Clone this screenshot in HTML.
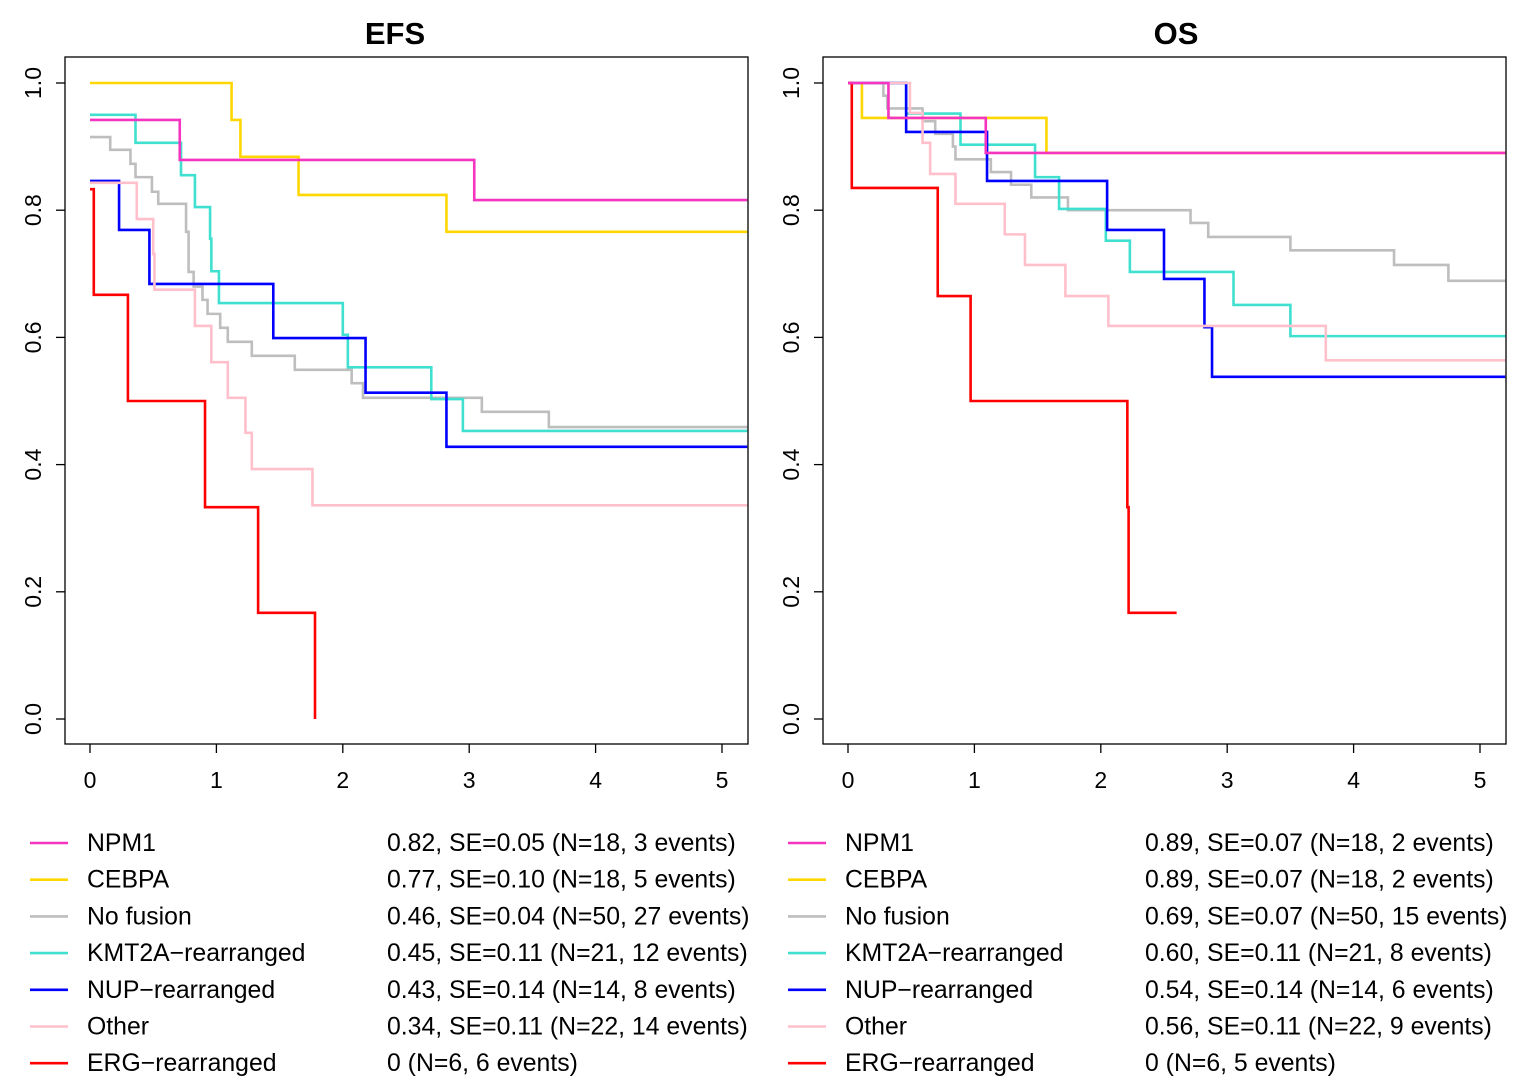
<!DOCTYPE html>
<html><head><meta charset="utf-8"><style>
body{margin:0;background:#fff;}
svg text{font-family:"Liberation Sans",Arial,sans-serif;}
</style></head><body>
<svg id="c" width="1520" height="1084" xmlns="http://www.w3.org/2000/svg"></svg>
<script>
const groups = ["NPM1","CEBPA","No fusion","KMT2A\u2212rearranged","NUP\u2212rearranged","Other","ERG\u2212rearranged"];
const colors = ["#f535c0","#ffd700","#bebebe","#40e0d0","#0000ff","#ffc0cb","#ff0000"];
const efsTimes = [
 [0,0.71,3.04],
 [0,1.12,1.19,1.65,2.82],
 [0,0.16,0.32,0.36,0.49,0.54,0.76,0.78,0.82,0.89,0.93,1.03,1.09,1.28,1.62,2.07,2.16,3.1,3.63],
 [0,0.36,0.72,0.83,0.95,0.96,1.02,2.0,2.04,2.7,2.95],
 [0,0.23,0.47,1.45,2.18,2.82],
 [0,0.37,0.5,0.51,0.83,0.96,1.09,1.23,1.28,1.76],
 [0,0.03,0.3,0.91,1.33,1.78]
];
const efsSurv = [
 [0.942,0.879,0.816],
 [1.0,0.942,0.884,0.824,0.766],
 [0.915,0.895,0.873,0.852,0.829,0.81,0.766,0.703,0.68,0.659,0.637,0.615,0.593,0.571,0.549,0.528,0.505,0.483,0.459],
 [0.95,0.906,0.855,0.805,0.755,0.704,0.654,0.604,0.553,0.503,0.453],
 [0.846,0.769,0.684,0.599,0.513,0.428],
 [0.843,0.786,0.731,0.675,0.618,0.561,0.505,0.45,0.393,0.336],
 [0.833,0.667,0.5,0.333,0.167,0]
];
const efsEnd = [5.2,5.2,5.2,5.2,5.2,5.2,1.78];
const osTimes = [
 [0,0.32,1.09],
 [0,0.11,1.57],
 [0,0.28,0.31,0.59,0.69,0.83,0.85,1.13,1.29,1.45,1.74,2.71,2.85,3.5,4.32,4.75],
 [0,0.46,0.89,1.48,1.67,2.04,2.23,3.05,3.5],
 [0,0.46,1.1,2.05,2.5,2.82,2.88],
 [0,0.49,0.59,0.65,0.85,1.24,1.4,1.72,2.06,3.78],
 [0,0.03,0.71,0.97,2.21,2.22]
];
const osSurv = [
 [1.0,0.945,0.89],
 [1.0,0.945,0.89],
 [1.0,0.98,0.96,0.94,0.92,0.90,0.88,0.86,0.84,0.82,0.80,0.78,0.758,0.737,0.714,0.689],
 [1.0,0.952,0.903,0.852,0.802,0.752,0.703,0.651,0.602],
 [1.0,0.923,0.846,0.769,0.692,0.616,0.538],
 [1.0,0.953,0.906,0.857,0.81,0.762,0.714,0.665,0.618,0.564],
 [1.0,0.835,0.665,0.5,0.333,0.167]
];
const osEnd = [5.2,5.2,5.2,5.2,5.2,5.2,2.6];
const efsStats = ["0.82, SE=0.05 (N=18, 3 events)","0.77, SE=0.10 (N=18, 5 events)","0.46, SE=0.04 (N=50, 27 events)","0.45, SE=0.11 (N=21, 12 events)","0.43, SE=0.14 (N=14, 8 events)","0.34, SE=0.11 (N=22, 14 events)","0 (N=6, 6 events)"];
const osStats = ["0.89, SE=0.07 (N=18, 2 events)","0.89, SE=0.07 (N=18, 2 events)","0.69, SE=0.07 (N=50, 15 events)","0.60, SE=0.11 (N=21, 8 events)","0.54, SE=0.14 (N=14, 6 events)","0.56, SE=0.11 (N=22, 9 events)","0 (N=6, 5 events)"];
const xTicks = [0,1,2,3,4,5];
const yTicks = ["0.0","0.2","0.4","0.6","0.8","1.0"];
const drawOrder = [1,2,3,4,5,6,0];

const NS="http://www.w3.org/2000/svg";
const svg=document.getElementById('c');
function mk(tag,attrs,parent){const e=document.createElementNS(NS,tag);for(const k in attrs)e.setAttribute(k,attrs[k]);(parent||svg).appendChild(e);return e;}

function panel(key,title,left,titleX,times,surv,ends,stats){
  const x0=left+25, pxPerYr=126.4;
  const xs=t=>x0+t*pxPerYr, ys=s=>719-s*636;
  const g=mk('g',{});
  
  
  const cp=mk('clipPath',{id:'clip-'+key},g);
  mk('rect',{x:left,y:57,width:683,height:687},cp);
  const t=mk('text',{x:titleX,y:44,'font-size':31,'font-weight':'bold','text-anchor':'middle'},g);
  t.textContent=title;
  
  
  drawOrder.forEach(i=>{
    let d='M'+xs(times[i][0])+','+ys(surv[i][0]);
    for(let j=1;j<times[i].length;j++){
      d+=' H'+xs(times[i][j])+' V'+ys(surv[i][j]);
    }
    d+=' H'+xs(ends[i]);
    const p=mk('path',{d:d,fill:'none',stroke:colors[i],'stroke-width':2.6,'clip-path':'url(#clip-'+key+')'},g);
    
    
  });
  const box=mk('rect',{x:left,y:57,width:683,height:687,fill:'none',stroke:'#000','stroke-width':1.3},g);
  
  
  xTicks.forEach(v=>{
    mk('line',{x1:xs(v),x2:xs(v),y1:744,y2:753,stroke:'#000','stroke-width':1.3},g);
    const l=mk('text',{x:xs(v),y:788,'font-size':23,'text-anchor':'middle'},g);
    l.textContent=v;
    
    
  });
  yTicks.forEach(v=>{
    const y=ys(parseFloat(v));
    mk('line',{x1:left,x2:left-9,y1:y,y2:y,stroke:'#000','stroke-width':1.3},g);
    const l=mk('text',{x:0,y:0,'font-size':23,'text-anchor':'middle',transform:'translate('+(left-24)+','+y+') rotate(-90)'},g);
    l.textContent=v;
    
    
  });
  for(let i=0;i<groups.length;i++){
    const y=843+i*36.7;
    const ln=mk('line',{x1:left-35,x2:left+3,y1:y,y2:y,stroke:colors[i],'stroke-width':2.6},g);
    
    
    const a=mk('text',{x:left+22,y:y+8,'font-size':24.8},g);
    a.textContent=groups[i];
    
    
    const b=mk('text',{x:left+322,y:y+8,'font-size':24.8},g);
    b.textContent=stats[i];
    
    
  }
}
panel('efs','EFS',65,395,efsTimes,efsSurv,efsEnd,efsStats);
panel('os','OS',823,1176,osTimes,osSurv,osEnd,osStats);
</script>
</body></html>
